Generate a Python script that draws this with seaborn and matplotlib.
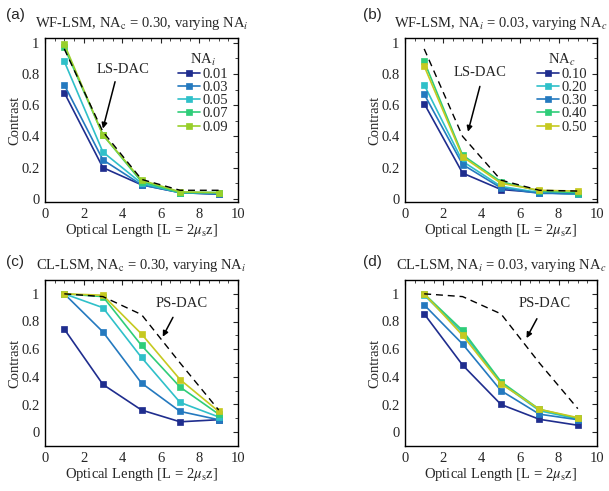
import matplotlib
matplotlib.use("Agg")
import matplotlib.pyplot as plt
import seaborn as sns
from matplotlib.ticker import MultipleLocator

# ---------------- data ----------------
L = [1, 3, 5, 7, 9]

# (a) WF-LSM, NA_c = 0.30, varying NA_i
a_labels = ["0.01", "0.03", "0.05", "0.07", "0.09"]
a_001 = [0.68, 0.20, 0.09, 0.04, 0.03]
a_003 = [0.73, 0.25, 0.09, 0.04, 0.03]
a_005 = [0.88, 0.30, 0.10, 0.04, 0.04]
a_007 = [0.97, 0.41, 0.11, 0.04, 0.04]
a_009 = [0.99, 0.41, 0.12, 0.045, 0.04]
a_dac = [0.96, 0.43, 0.125, 0.055, 0.055]

# (b) WF-LSM, NA_i = 0.03, varying NA_c
b_labels = ["0.10", "0.20", "0.30", "0.40", "0.50"]
b_010 = [0.61, 0.165, 0.06, 0.04, 0.03]
b_020 = [0.73, 0.24, 0.08, 0.04, 0.03]
b_030 = [0.67, 0.22, 0.07, 0.035, 0.035]
b_040 = [0.88, 0.28, 0.11, 0.05, 0.04]
b_050 = [0.85, 0.27, 0.10, 0.055, 0.05]
b_dac = [0.96, 0.40, 0.12, 0.055, 0.05]

# (c) CL-LSM, NA_c = 0.30, varying NA_i
c_001 = [0.745, 0.345, 0.16, 0.075, 0.09]
c_003 = [1.0, 0.725, 0.355, 0.15, 0.09]
c_005 = [1.0, 0.90, 0.54, 0.215, 0.11]
c_007 = [1.0, 0.98, 0.627, 0.326, 0.13]
c_009 = [1.0, 0.99, 0.71, 0.38, 0.15]
c_dac = [1.0, 0.98, 0.85, 0.50, 0.16]

# (d) CL-LSM, NA_i = 0.03, varying NA_c
d_010 = [0.855, 0.485, 0.20, 0.093, 0.05]
d_020 = [0.99, 0.72, 0.355, 0.155, 0.095]
d_030 = [0.92, 0.637, 0.30, 0.13, 0.09]
d_040 = [1.0, 0.735, 0.365, 0.165, 0.10]
d_050 = [1.0, 0.70, 0.35, 0.165, 0.105]
d_dac = [1.0, 0.98, 0.855, 0.50, 0.17]

# ---------------- style ----------------
sns.set_style("white")
plt.rcParams["font.family"] = ["Liberation Serif", "DejaVu Serif"]
plt.rcParams["mathtext.fontset"] = "stix"
plt.rcParams["font.size"] = 10

navy = "#1f2d8e"
blue = "#2479bf"
cyan = "#2fc0c9"
green = "#2fcd79"
ygreen = "#98cf2a"
yellow = "#c6c920"

colors_a = [navy, blue, cyan, green, ygreen]
colors_b = [navy, cyan, blue, green, yellow]
colors_c = [navy, blue, cyan, green, yellow]

fig = plt.figure(figsize=(6.09, 4.91), dpi=100)
W, H = 609, 491


def add_ax(l, t, r, b):
    return fig.add_axes([l / W, 1 - b / H, (r - l) / W, (b - t) / H])


ax_a = add_ax(45, 38, 238, 202)
ax_b = add_ax(405, 38, 597, 202)
ax_c = add_ax(45, 280, 238, 446)
ax_d = add_ax(405, 280, 597, 446)


def draw(ax, series, labels, colors, dac, ylim, yticks):
    for vals, lab, col in zip(series, labels, colors):
        sns.lineplot(x=L, y=vals, ax=ax, color=col, marker="s", markersize=4.8,
                     markeredgecolor=col, markeredgewidth=0.5, linewidth=1.2,
                     label=lab, legend=False)
    sns.lineplot(x=L, y=dac, ax=ax, color="black", linewidth=1.0,
                 linestyle=(0, (5, 3.5)), legend=False)
    ax.set_xlim(0, 10)
    ax.set_ylim(*ylim)
    ax.set_xticks([0, 2, 4, 6, 8, 10])
    ax.set_yticks(yticks)
    ax.set_yticklabels(["0" if v == 0 else ("1" if v == 1 else f"{v:.1f}") for v in yticks])
    ax.xaxis.set_minor_locator(MultipleLocator(0.5))
    ax.yaxis.set_minor_locator(MultipleLocator(0.1))
    ax.tick_params(which="both", direction="in", top=True, right=True, labelsize=10.5)
    ax.tick_params(which="major", length=3.5, width=0.8, pad=4)
    ax.tick_params(which="minor", length=2, width=0.6)
    for s in ax.spines.values():
        s.set_linewidth(1.0)
        s.set_color("black")
    ax.set_xlabel(r"Optical Length [L = 2$\mu_\mathrm{s}$z]", fontsize=10.5, labelpad=1)
    ax.set_ylabel("Contrast", fontsize=10.5, labelpad=0)


yt = [0, 0.2, 0.4, 0.6, 0.8, 1.0]
draw(ax_a, [a_001, a_003, a_005, a_007, a_009], a_labels, colors_a, a_dac, (-0.02, 1.03), yt)
draw(ax_b, [b_010, b_020, b_030, b_040, b_050], b_labels, colors_b, b_dac, (-0.02, 1.03), yt)
draw(ax_c, [c_001, c_003, c_005, c_007, c_009], a_labels, colors_c, c_dac, (-0.1, 1.1), yt)
draw(ax_d, [d_010, d_020, d_030, d_040, d_050], b_labels, colors_b, d_dac, (-0.1, 1.1), yt)

# legends for top panels
for ax, title in [(ax_a, r"NA$_i$"), (ax_b, r"NA$_c$")]:
    leg = ax.legend(title=title, loc="upper right", bbox_to_anchor=(1.0, 0.98), frameon=False,
                    fontsize=10.5, title_fontsize=10.5, handlelength=1.5,
                    handletextpad=0.15, labelspacing=0.0, borderaxespad=0.3)

# titles
ax_a.set_title(r"WF-LSM, NA$_\mathrm{c}$ = 0.30, varying NA$_i$", fontsize=10.5, pad=8)
ax_b.set_title(r"WF-LSM, NA$_i$ = 0.03, varying NA$_c$", fontsize=10.5, pad=8)
ax_c.set_title(r"CL-LSM, NA$_\mathrm{c}$ = 0.30, varying NA$_i$", fontsize=10.5, pad=8)
ax_d.set_title(r"CL-LSM, NA$_i$ = 0.03, varying NA$_c$", fontsize=10.5, pad=8)

# panel labels
for (x, y, t) in [(15, 15, "(a)"), (372, 15, "(b)"), (15, 262, "(c)"), (372, 262, "(d)")]:
    fig.text(x / W, 1 - y / H, t, ha="center", va="center", fontsize=11,
             family=["Liberation Sans", "DejaVu Sans"])

# annotations
arrow = dict(arrowstyle="-|>", color="black", lw=1.1, mutation_scale=8, shrinkA=0, shrinkB=0)
ax_a.text(4.05, 0.83, "LS-DAC", ha="center", va="center", fontsize=10.5)
ax_a.annotate("", xy=(3.0, 0.45), xytext=(3.63, 0.75), arrowprops=arrow)
ax_b.text(3.9, 0.81, "LS-DAC", ha="center", va="center", fontsize=10.5)
ax_b.annotate("", xy=(3.28, 0.43), xytext=(3.9, 0.72), arrowprops=arrow)
ax_c.text(7.1, 0.93, "PS-DAC", ha="center", va="center", fontsize=10.5)
ax_c.annotate("", xy=(6.1, 0.69), xytext=(6.63, 0.83), arrowprops=arrow)
ax_d.text(7.3, 0.93, "PS-DAC", ha="center", va="center", fontsize=10.5)
ax_d.annotate("", xy=(6.33, 0.68), xytext=(6.87, 0.82), arrowprops=arrow)

fig.savefig("out.png", dpi=100, facecolor="white")
